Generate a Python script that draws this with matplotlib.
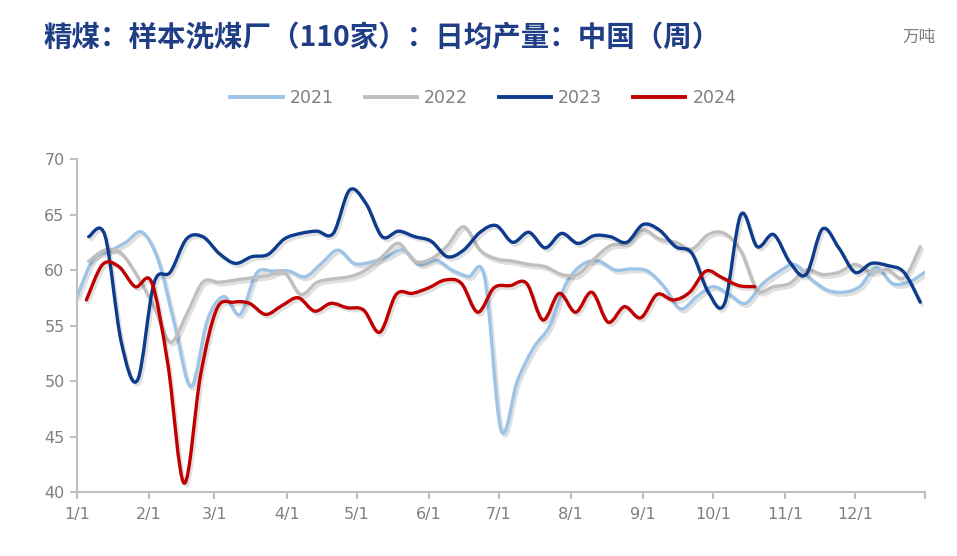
import matplotlib
matplotlib.use("Agg")
import matplotlib.pyplot as plt
import matplotlib.patheffects as pe
from matplotlib.path import Path
from matplotlib.patches import PathPatch
import numpy as np

# weekly values (万吨/日)
v2021 = [57.6, 61.0, 61.7, 62.5, 63.4, 60.8, 55.0, 49.5, 55.5, 57.6, 56.0, 59.7, 59.9,
         59.9, 59.4, 60.6, 61.8, 60.6, 60.7, 61.2, 61.8, 60.5, 60.9, 60.0, 59.4, 59.3,
         45.6, 50.0, 53.0, 55.0, 58.8, 60.5, 60.8, 60.0, 60.1, 59.9, 58.5, 56.5, 57.6,
         58.5, 57.8, 57.0, 58.7, 59.8, 60.5, 59.2, 58.2, 58.0, 58.5, 60.2, 58.8, 58.9, 59.8]
v2022 = [60.8, 61.8, 61.5, 59.4, 56.7, 53.5, 56.0, 58.9, 58.9, 59.1, 59.3, 59.5, 59.8,
         57.8, 58.9, 59.2, 59.4, 60.0, 61.2, 62.4, 60.8, 61.0, 62.2, 63.9, 61.8, 61.0,
         60.8, 60.5, 60.3, 59.6, 59.6, 61.0, 62.2, 62.4, 63.6, 62.8, 62.5, 61.9, 63.2,
         63.3, 61.7, 58.2, 58.5, 58.8, 60.0, 59.6, 59.8, 60.5, 59.8, 60.0, 59.3, 62.1]
v2023 = [63.0, 63.1, 53.5, 50.1, 58.8, 59.8, 62.8, 63.0, 61.5, 60.6, 61.2, 61.4, 62.8,
         63.3, 63.5, 63.3, 67.2, 66.0, 63.0, 63.5, 63.0, 62.6, 61.2, 61.8, 63.4, 64.0,
         62.5, 63.4, 62.0, 63.3, 62.4, 63.1, 63.0, 62.5, 64.1, 63.6, 62.1, 61.5, 58.0,
         57.0, 65.0, 62.1, 63.2, 60.7, 59.6, 63.7, 62.0, 59.8, 60.6, 60.4, 59.8, 57.1]
v2024 = [57.3, 60.5, 60.3, 58.5, 58.9, 51.5, 40.8, 50.5, 56.5, 57.1, 57.0, 56.0, 56.8,
         57.5, 56.3, 57.0, 56.6, 56.4, 54.4, 57.8, 57.9, 58.4, 59.1, 58.8, 56.2, 58.4,
         58.6, 58.8, 55.5, 57.9, 56.2, 58.0, 55.3, 56.7, 55.7, 57.8, 57.3, 58.0, 59.9,
         59.3, 58.6, 58.5]

# first report day of each year (day of year, weekly after that)
start_day = {"2021": 0, "2022": 5, "2023": 5, "2024": 4}
series = {"2021": v2021, "2022": v2022, "2023": v2023, "2024": v2024}
colors = {"2021": "#9DC3E6", "2022": "#BFBFBF", "2023": "#0D3C8C", "2024": "#C00000"}

month_days = [0, 31, 59, 90, 120, 151, 181, 212, 243, 273, 304, 334]
month_labels = ["1/1", "2/1", "3/1", "4/1", "5/1", "6/1", "7/1", "8/1", "9/1", "10/1", "11/1", "12/1"]


def smooth_path(x, y):
    # Catmull-Rom spline handed to matplotlib as cubic Bezier segments
    pts = np.column_stack([x, y])
    verts = [pts[0]]
    codes = [Path.MOVETO]
    n = len(pts)
    for i in range(n - 1):
        p0 = pts[i - 1] if i > 0 else pts[i]
        p1 = pts[i]
        p2 = pts[i + 1]
        p3 = pts[i + 2] if i + 2 < n else pts[i + 1]
        c1 = p1 + (p2 - p0) / 6.0
        c2 = p2 - (p3 - p1) / 6.0
        verts += [c1, c2, p2]
        codes += [Path.CURVE4] * 3
    return Path(verts, codes)


fig = plt.figure(figsize=(9.57, 5.56), dpi=100)
ax = fig.add_axes([0.0805, 0.115, 0.886, 0.599])

for name, vals in series.items():
    days = start_day[name] + 7 * np.arange(len(vals))
    patch = PathPatch(smooth_path(days, vals), fill=False, edgecolor=colors[name],
                      lw=2.4, capstyle="round", joinstyle="round")
    patch.set_path_effects([pe.SimpleLineShadow(offset=(1.5, -2), shadow_color="k", alpha=0.12, rho=1),
                            pe.Normal()])
    ax.add_patch(patch)
    ax.plot([], [], color=colors[name], lw=2.8, label=name)

ax.set_xlim(0, 364)
ax.set_ylim(40, 70)
ax.set_yticks(range(40, 71, 5))
ax.set_xticks(month_days + [364])
ax.set_xticklabels(month_labels + [""])

for s in ["top", "right"]:
    ax.spines[s].set_visible(False)
for s in ["left", "bottom"]:
    ax.spines[s].set_color("#BFBFBF")
    ax.spines[s].set_linewidth(1.5)
ax.tick_params(axis="both", colors="#BFBFBF", length=5, width=1.5, labelcolor="#7F7F7F",
               labelsize=11.5)
ax.tick_params(axis="x", pad=6)
ax.tick_params(axis="y", pad=4)
for lab in ax.get_xticklabels() + ax.get_yticklabels():
    lab.set_family(["Liberation Sans Narrow", "DejaVu Sans"])

leg = fig.legend(loc="center", bbox_to_anchor=(0.505, 0.823), ncol=4, frameon=False,
                 handlelength=3.0, columnspacing=1.8, handletextpad=0.4,
                 prop={"family": ["Liberation Sans Narrow", "DejaVu Sans"], "size": 12.5})
for t in leg.get_texts():
    t.set_color("#7F7F7F")

fig.text(0.045, 0.932, "精煤：样本洗煤厂（110家）：日均产量：中国（周）", fontsize=20.5,
         fontweight="bold", color="#1F3E86", va="center", ha="left",
         family=["Noto Sans CJK SC", "DejaVu Sans"])
fig.text(0.978, 0.932, "万吨", fontsize=12, color="#7F7F7F", va="center", ha="right",
         family=["Noto Sans CJK SC", "DejaVu Sans"])

fig.savefig("out.png", dpi=100)
